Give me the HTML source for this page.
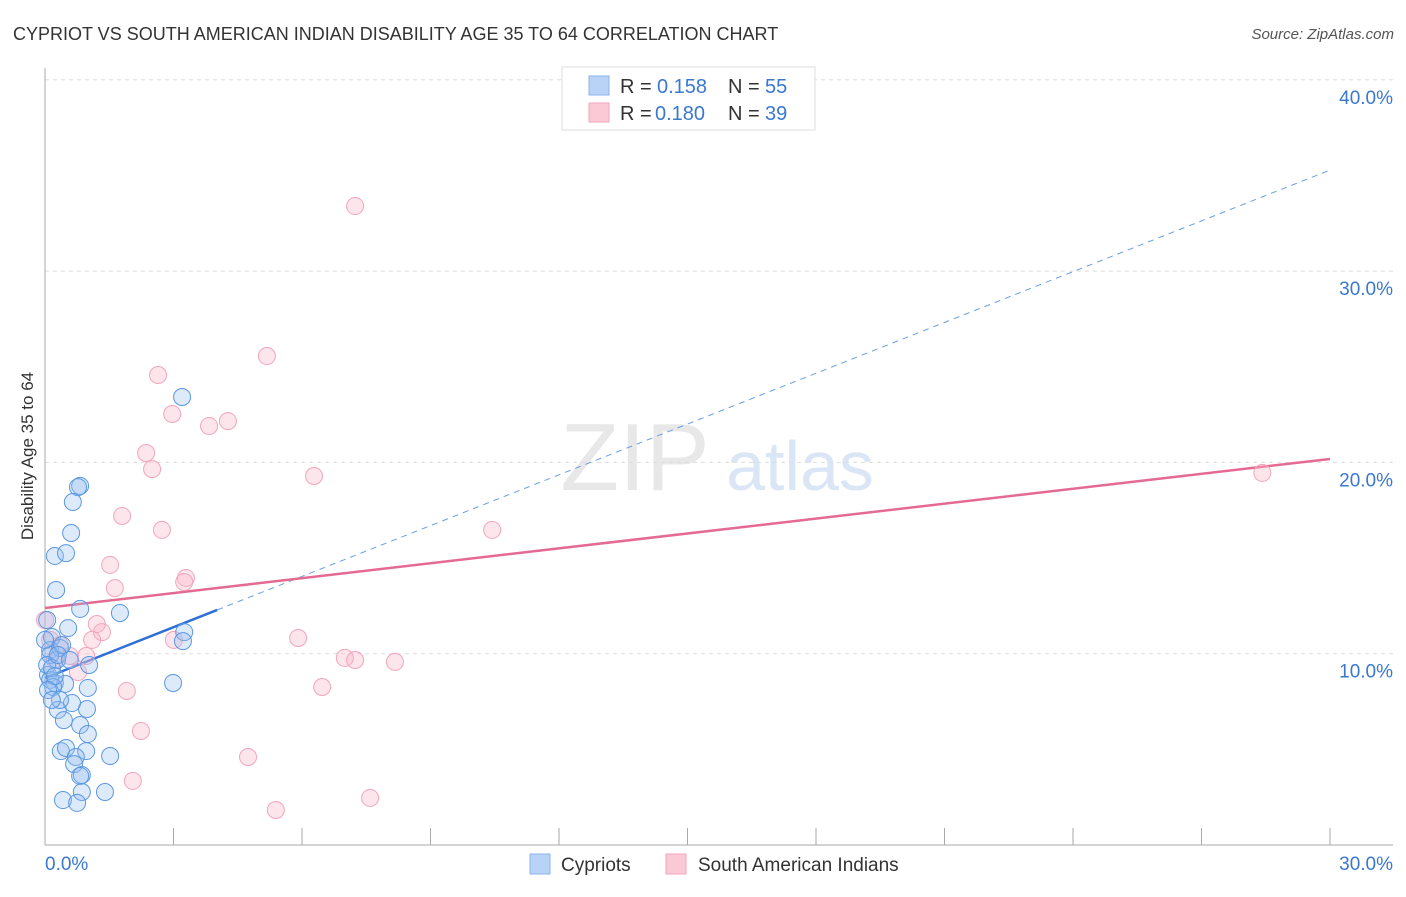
<!DOCTYPE html>
<html><head><meta charset="utf-8"><style>
body{margin:0;background:#fff;font-family:"Liberation Sans",sans-serif;}
svg text{font-family:"Liberation Sans",sans-serif;}
</style></head><body>
<svg id="chart" width="1406" height="892" xmlns="http://www.w3.org/2000/svg">
<text x="13" y="40" font-size="18" fill="#333">CYPRIOT VS SOUTH AMERICAN INDIAN DISABILITY AGE 35 TO 64 CORRELATION CHART</text>
<text x="1394" y="39" font-size="15" fill="#555" text-anchor="end" font-style="italic">Source: ZipAtlas.com</text>
<text transform="translate(33,456) rotate(-90)" font-size="17" fill="#333" text-anchor="middle">Disability Age 35 to 64</text>
<g>
<text x="635" y="490" font-size="96" fill="#e8e8e8" text-anchor="middle" font-family="Liberation Serif">ZIP</text>
<text x="800" y="490" font-size="70" fill="#dae6f6" text-anchor="middle">atlas</text>
</g>
<g id="grid"></g><g id="axes"></g><g id="trends"></g><g id="points"></g>
<g>
<rect x="562" y="67" width="253" height="63" fill="#fff" stroke="#ddd"/>
<rect x="589" y="76" width="20" height="19" fill="#b9d3f6" stroke="#8ab4ea"/>
<rect x="589" y="103" width="20" height="19" fill="#fbc8d6" stroke="#f3a6bd"/>
<text x="620" y="93" font-size="20" fill="#333">R =</text>
<text x="657" y="93" font-size="20" fill="#3a78d0">0.158</text>
<text x="728" y="93" font-size="20" fill="#333">N =</text>
<text x="765" y="93" font-size="20" fill="#3a78d0">55</text>
<text x="620" y="120" font-size="20" fill="#333">R =</text>
<text x="655" y="120" font-size="20" fill="#3a78d0">0.180</text>
<text x="728" y="120" font-size="20" fill="#333">N =</text>
<text x="765" y="120" font-size="20" fill="#3a78d0">39</text>
</g>
<g>
<rect x="530" y="854" width="20" height="20" fill="#b9d3f6" stroke="#8ab4ea"/>
<text x="561" y="871" font-size="19" fill="#333">Cypriots</text>
<rect x="666" y="854" width="20" height="20" fill="#fbc8d6" stroke="#f3a6bd"/>
<text x="698" y="871" font-size="19" fill="#333">South American Indians</text>
</g>
</svg>
<script>
const yTicks=[10,20,30,40];
const yTickLabels=["10.0%","20.0%","30.0%","40.0%"];
const xTickLabels=["0.0%","30.0%"];
const blueX=[3.20,0.82,0.77,0.65,0.61,0.23,0.49,0.26,0.82,1.75,0.54,3.25,3.22,0.16,0.12,0.35,0.28,1.03,0.07,0.12,0.23,0.47,0.19,1.00,2.99,0.30,0.98,0.63,0.44,0.82,1.00,0.37,0.49,0.96,0.72,0.68,1.52,0.86,0.82,0.86,0.42,1.40,0.75,0.12,0.05,0.16,0.23,0.07,0.35,0,0.40,0.30,0.58,0.16,0.05];
const blueY=[23.42,18.77,18.71,17.93,16.31,15.11,15.26,13.33,12.34,12.13,11.34,11.13,10.66,10.87,10.19,10.30,9.67,9.41,8.89,8.63,8.47,8.42,8.26,8.21,8.47,7.06,7.11,7.42,6.53,6.27,5.80,4.91,5.07,4.91,4.60,4.23,4.65,3.66,3.61,2.77,2.35,2.77,2.20,9.93,9.41,9.25,8.83,8.10,7.58,10.72,10.45,9.93,9.67,7.58,11.76];
const pinkX=[7.24,5.18,2.64,2.97,4.27,3.83,2.36,2.50,6.28,1.80,2.73,10.44,1.52,1.63,3.29,3.25,0,0.12,0.35,1.21,1.33,1.10,5.91,3.01,0.96,0.58,0.77,7.00,7.24,8.17,6.47,1.91,2.24,4.74,2.05,7.59,5.39,28.42,0.23];
const pinkY=[33.40,25.56,24.57,22.53,22.16,21.90,20.49,19.65,19.29,17.20,16.47,16.47,14.64,13.43,13.96,13.75,11.76,10.72,10.45,11.55,11.13,10.72,10.82,10.72,9.88,9.88,9.04,9.78,9.67,9.57,8.26,8.05,5.96,4.60,3.35,2.46,1.83,19.45,9.67];
const blueTrend=[8.73,35.28];
const pinkTrend=[12.39,20.18];
const NS="http://www.w3.org/2000/svg";
const X0=45,X1=1330,Y0=845,PXY=19.13;
const sx=v=>X0+v/30*(X1-X0);
const sy=v=>Y0-v*PXY;
function mk(tag,attrs,parent){const e=document.createElementNS(NS,tag);for(const k in attrs)e.setAttribute(k,attrs[k]);document.getElementById(parent).appendChild(e);return e;}
yTicks.forEach((t,i)=>{
 const l=mk('line',{x1:X0,x2:1393,y1:sy(t),y2:sy(t),stroke:'#ddd','stroke-dasharray':'4,4'},'grid');
 
 
 const tx=mk('text',{x:1393,y:sy(t)+24,'font-size':19,fill:'#3a78d0','text-anchor':'end'},'grid');
 tx.textContent=yTickLabels[i];
 
 
});
const ax=mk('line',{x1:X0,x2:X0,y1:68,y2:Y0,stroke:'#aaa'},'axes');


const bx=mk('line',{x1:X0,x2:1393,y1:Y0,y2:Y0,stroke:'#aaa'},'axes');


for(let i=0;i<=10;i++){
 const t=mk('line',{x1:sx(i*3),x2:sx(i*3),y1:828,y2:Y0,stroke:'#aaa'},'axes');
 
 
}
[[0,'start',45],[30,'end',1393]].forEach((d,i)=>{
 const t=mk('text',{x:d[2],y:870,'font-size':19,fill:'#3a78d0','text-anchor':d[1]},'axes');
 t.textContent=xTickLabels[i];
 
 
});
const bl=v=>blueTrend[0]+(blueTrend[1]-blueTrend[0])*v/30;
const pl=v=>pinkTrend[0]+(pinkTrend[1]-pinkTrend[0])*v/30;
const b1=mk('line',{x1:sx(0),y1:sy(bl(0)),x2:sx(4.02),y2:sy(bl(4.02)),stroke:'#2f6fd6','stroke-width':2.5},'trends');


const b2=mk('line',{x1:sx(4.02),y1:sy(bl(4.02)),x2:sx(30),y2:sy(bl(30)),stroke:'#6a9ee6','stroke-width':1,'stroke-dasharray':'6,5'},'trends');


const p1=mk('line',{x1:sx(0),y1:sy(pl(0)),x2:sx(30),y2:sy(pl(30)),stroke:'#e46a92','stroke-width':2.5},'trends');


pinkX.forEach((x,i)=>{
 const c=mk('circle',{cx:sx(x),cy:sy(pinkY[i]),r:8.5,fill:'rgba(248,180,200,0.35)',stroke:'#f2a5bd','stroke-width':1},'points');
 
 
});
blueX.forEach((x,i)=>{
 const c=mk('circle',{cx:sx(x),cy:sy(blueY[i]),r:8.5,fill:'rgba(150,190,240,0.32)',stroke:'#5b98e3','stroke-width':1},'points');
 
 
});
</script>
</body></html>
